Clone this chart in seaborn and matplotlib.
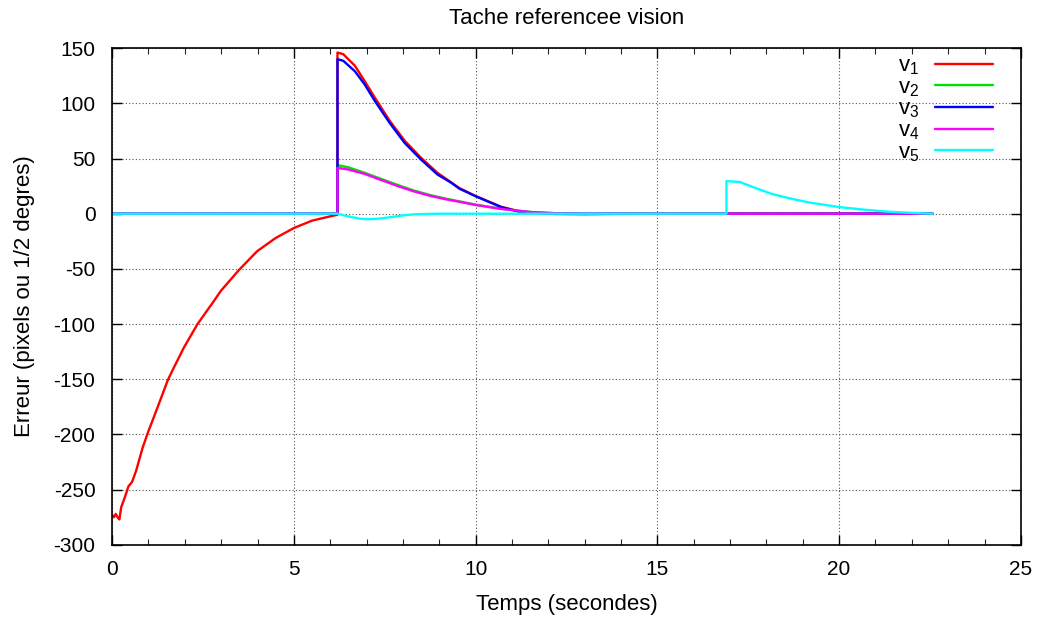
import matplotlib
matplotlib.use("Agg")
import matplotlib.pyplot as plt
import seaborn as sns
from matplotlib.ticker import MultipleLocator

# ---- data ----
t_v1 = [0.0, 0.05, 0.1, 0.15, 0.2, 0.25, 0.35, 0.45, 0.55, 0.66, 0.84, 1.0, 1.21,
        1.53, 1.66, 1.98, 2.35, 2.76, 2.99, 3.49, 3.99, 4.5, 5.0, 5.5, 6.0, 6.2,
        6.2, 6.36, 6.68, 6.95, 7.23, 7.64, 8.05, 8.5, 8.95, 9.55, 10.0, 10.7, 11.2,
        11.7, 12.2, 13.0, 14.0, 16.0, 22.57]
v1 = [-273, -275, -272, -275, -277, -266, -257, -247, -243, -233, -212, -197, -179,
      -151, -142, -121, -100, -81, -70, -51, -34, -22, -13, -6.3, -2.4, -1,
      146, 144.5, 134, 120, 105, 84, 66, 50.6, 37, 23.3, 16, 6.3, 2.2,
      0.6, -0.3, -0.5, -0.2, 0, 0]

t_v2 = [0.0, 6.2, 6.2, 6.5, 6.95, 7.4, 7.86, 8.3, 8.77, 9.2, 9.55, 10.0, 10.7,
        11.5, 12.2, 13.0, 22.57]
v2 = [0, 0, 44, 42, 37, 31.5, 26, 21, 16.7, 13.5, 11.2, 8.2, 4.5, 1.6, 0.4, 0, 0]

t_v3 = [0.0, 6.2, 6.2, 6.36, 6.68, 6.95, 7.23, 7.64, 8.05, 8.5, 8.95, 9.33, 9.55,
        10.0, 10.7, 11.17, 11.7, 12.2, 13.0, 22.57]
v3 = [0, 0, 140, 138.5, 129, 117, 102, 82, 64, 49, 35.5, 28, 22.7,
      15.8, 6, 2, 0.6, 0.1, 0, 0]

t_v4 = [0.0, 6.2, 6.2, 6.5, 6.95, 7.4, 7.86, 8.3, 8.77, 9.2, 9.55, 10.0, 10.7,
        11.5, 12.2, 13.0, 22.57]
v4 = [0, 0, 41.5, 40, 36, 30.5, 25, 20.2, 16, 12.9, 10.8, 7.9, 4.3, 1.5, 0.4, 0, 0]

t_v5 = [0.0, 6.2, 6.5, 6.8, 7.1, 7.4, 7.8, 8.1, 8.4, 9.0, 16.9, 16.9, 17.27,
        17.68, 18.14, 18.6, 19.15, 20.0, 20.7, 21.35, 22.08, 22.57]
v5 = [0, 0, -2.5, -4.5, -5, -4.3, -2.5, -1.2, -0.4, 0, 0, 29.5, 28.7,
      23.5, 18, 14.2, 10.3, 6, 3.6, 1.8, 0.6, 0]

series_labels = ["v$_1$", "v$_2$", "v$_3$", "v$_4$", "v$_5$"]
series_colors = ["#ff0000", "#00e000", "#0000ff", "#ff00ff", "#00ffff"]

title = "Tache referencee vision"
xlabel = "Temps (secondes)"
ylabel = "Erreur (pixels ou 1/2 degres)"

# ---- style ----
sns.set_style("ticks")
plt.rcParams["font.family"] = ["Liberation Sans", "DejaVu Sans"]
plt.rcParams["mathtext.default"] = "regular"
plt.rcParams["axes.unicode_minus"] = False
plt.rcParams["text.color"] = "black"
plt.rcParams["axes.labelcolor"] = "black"

fig = plt.figure(figsize=(10.38, 6.17), dpi=100)
ax = fig.add_axes([0.108, 0.117, 0.8755, 0.805])

data = [(t_v1, v1), (t_v2, v2), (t_v3, v3), (t_v4, v4), (t_v5, v5)]
for (tt, vv), lab, col in zip(data, series_labels, series_colors):
    sns.lineplot(x=tt, y=vv, ax=ax, sort=False, estimator=None,
                 color=col, linewidth=1.7, label=lab)

ax.set_xlim(0, 25)
ax.set_ylim(-300, 150)
ax.xaxis.set_major_locator(MultipleLocator(5))
ax.xaxis.set_minor_locator(MultipleLocator(1))
ax.yaxis.set_major_locator(MultipleLocator(50))

ax.grid(True, which="major", color="#555555", linestyle=(0, (1, 2)), linewidth=0.8)
ax.tick_params(axis="both", which="major", direction="in", length=7, width=1,
               top=True, right=True, labelsize=15, colors="black")
ax.tick_params(axis="y", which="major", pad=12)
ax.tick_params(axis="x", which="major", pad=11)
ax.tick_params(axis="x", which="minor", direction="in", length=4, width=0.8,
               top=True, bottom=True)
for s in ax.spines.values():
    s.set_visible(True)
    s.set_color("black")
    s.set_linewidth(1.2)

ax.set_title(title, fontsize=16, pad=17.5, color="black")
ax.set_xlabel(xlabel, fontsize=16, labelpad=10.5)
ax.set_ylabel(ylabel, fontsize=16, labelpad=13)

leg = ax.legend(loc="upper right", frameon=False, markerfirst=False,
                fontsize=16, handlelength=2.6, labelspacing=0.0,
                borderpad=0.0, borderaxespad=0.0,
                bbox_to_anchor=(0.969, 0.985), handletextpad=0.7)
for txt in leg.get_texts():
    txt.set_color("black")

fig.savefig("out.png", dpi=100)
